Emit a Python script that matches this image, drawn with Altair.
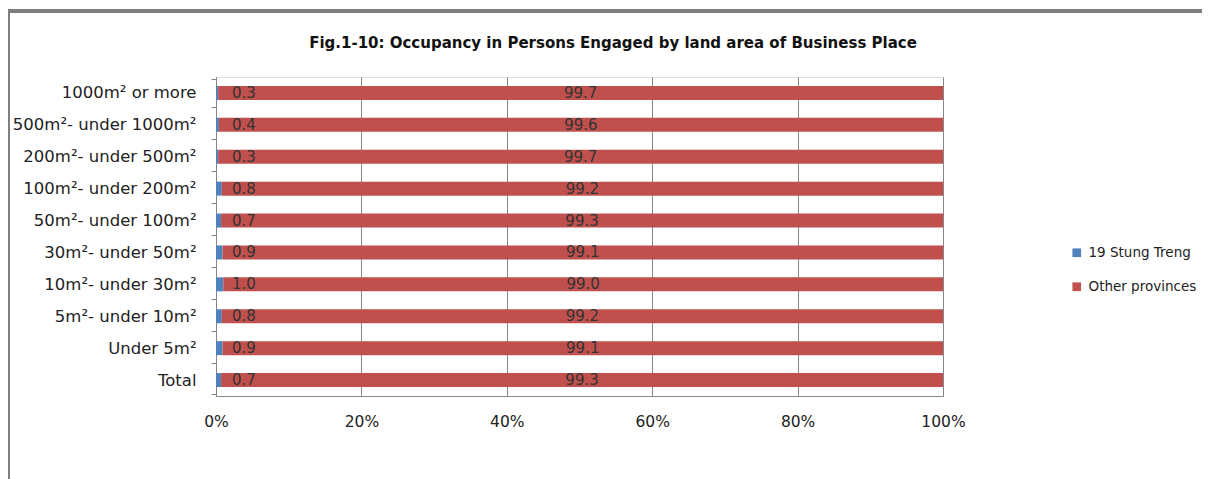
import altair as alt
import pandas as pd

title_text = "Fig.1-10: Occupancy in Persons Engaged by land area of Business Place"
categories = [
    "1000m² or more",
    "500m²- under 1000m²",
    "200m²- under 500m²",
    "100m²- under 200m²",
    "50m²- under 100m²",
    "30m²- under 50m²",
    "10m²- under 30m²",
    "5m²- under 10m²",
    "Under 5m²",
    "Total",
]
stung_treng = [0.3, 0.4, 0.3, 0.8, 0.7, 0.9, 1.0, 0.8, 0.9, 0.7]
other_provinces = [99.7, 99.6, 99.7, 99.2, 99.3, 99.1, 99.0, 99.2, 99.1, 99.3]
series_names = ["19 Stung Treng", "Other provinces"]
series_colors = ["#4F81BD", "#C0504D"]
x_ticks = [0, 20, 40, 60, 80, 100]

rows = []
for c, a, b in zip(categories, stung_treng, other_provinces):
    rows.append({"category": c, "series": series_names[0], "value": a, "start": 0.0, "order": 0})
    rows.append({"category": c, "series": series_names[1], "value": b, "start": a, "order": 1})
df = pd.DataFrame(rows)

FONT = "DejaVu Sans"

y_enc = alt.Y(
    "category:N",
    sort=categories,
    title=None,
    axis=alt.Axis(
        labelFont=FONT, labelFontSize=16.5, labelColor="#222222",
        domainColor="#868686", tickColor="#868686", tickSize=5,
        tickBand="extent", labelPadding=15, grid=False, labelLimit=400,
    ),
)
x_scale = alt.Scale(domain=[0, 100], nice=False)

bars = alt.Chart(df).mark_bar(size=14).encode(
    x=alt.X(
        "value:Q", stack="zero", scale=x_scale, title=None,
        axis=alt.Axis(
            values=x_ticks, labelExpr="datum.value + '%'",
            labelFont=FONT, labelFontSize=15.5, labelColor="#222222",
            grid=True, gridColor="#868686", gridWidth=1, labelFlush=False,
            domainColor="#868686", ticks=False, labelPadding=18,
        ),
    ),
    y=y_enc,
    color=alt.Color(
        "series:N",
        scale=alt.Scale(domain=series_names, range=series_colors),
        legend=alt.Legend(
            title=None, orient="none", legendX=854, legendY=169,
            symbolType="square", symbolSize=75, symbolStrokeWidth=0,
            labelFont=FONT, labelFontSize=13.5, labelColor="#222222",
            rowPadding=19, labelOffset=5,
        ),
    ),
    order=alt.Order("order:Q"),
)

base_text = alt.Chart(df)
blue_text = base_text.transform_filter(
    alt.datum.order == 0
).mark_text(align="left", baseline="middle", dx=16, font=FONT, fontSize=15, color="#333333").encode(
    x=alt.X("start:Q", scale=x_scale),
    y=alt.Y("category:N", sort=categories),
    text=alt.Text("value:Q", format=".1f"),
)
red_text = base_text.transform_filter(
    alt.datum.order == 1
).transform_calculate(
    mid="datum.start + datum.value / 2"
).mark_text(align="center", baseline="middle", font=FONT, fontSize=15, color="#333333").encode(
    x=alt.X("mid:Q", scale=x_scale),
    y=alt.Y("category:N", sort=categories),
    text=alt.Text("value:Q", format=".1f"),
)

title_mark = alt.Chart(pd.DataFrame({"t": [title_text]})).mark_text(
    align="center", baseline="middle", font=FONT, fontSize=15, fontWeight="bold", color="#111111"
).encode(x=alt.value(397), y=alt.value(-34), text="t:N")

frame_top = alt.Chart(df).mark_rule(color="#7f7f7f", strokeWidth=3).encode(
    x=alt.value(-208), x2=alt.value(1000), y=alt.value(-66)
)
frame_left = alt.Chart(df).mark_rule(color="#7f7f7f", strokeWidth=2).encode(
    x=alt.value(-207), y=alt.value(-67), y2=alt.value(420)
)

chart = alt.layer(bars, blue_text, red_text, title_mark, frame_top, frame_left).properties(
    width=727,
    height=319,
    padding={"left": 208, "top": 69, "right": 259, "bottom": 83},
    autosize=alt.AutoSizeParams(type="none"),
).configure_view(stroke=None).configure(background="white")

chart.save("out.html", embed_options={"renderer": "svg", "actions": False})
